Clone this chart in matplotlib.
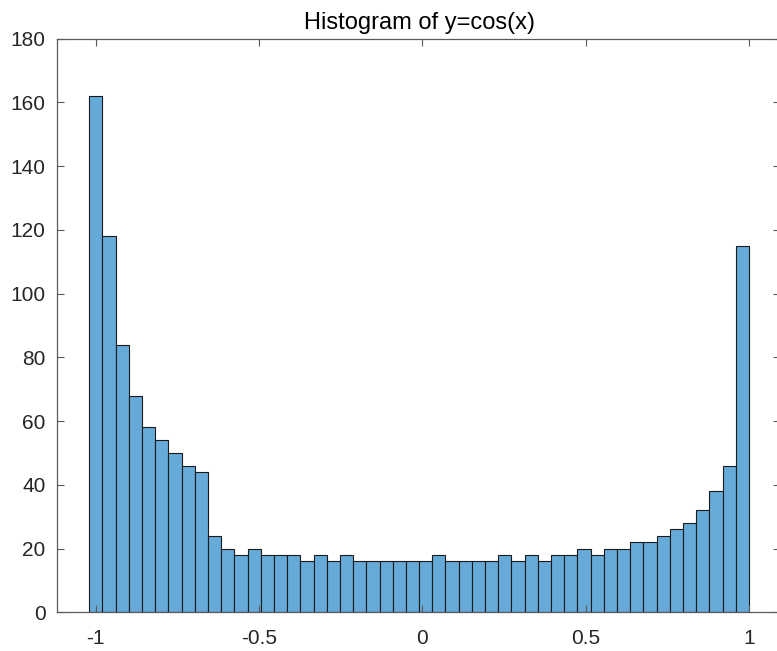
import numpy as np
import matplotlib
matplotlib.use("Agg")
import matplotlib.pyplot as plt

# Histogram of y = cos(x): 50 bins from -1.02 to 1.0
bin_start = -1.02
bin_end = 1.0
counts = [162, 118, 84, 68, 58, 54, 50, 46, 44, 24,
          20, 18, 20, 18, 18, 18, 16, 18, 16, 18,
          16, 16, 16, 16, 16, 16, 18, 16, 16, 16,
          16, 18, 16, 18, 16, 18, 18, 20, 18, 20,
          20, 22, 22, 24, 26, 28, 32, 38, 46, 115]
xticks = [-1, -0.5, 0, 0.5, 1]
xtick_labels = ["-1", "-0.5", "0", "0.5", "1"]
yticks = [0, 20, 40, 60, 80, 100, 120, 140, 160, 180]
title = "Histogram of y=cos(x)"

plt.rcParams['font.family'] = ['Liberation Sans', 'DejaVu Sans']
plt.rcParams['axes.unicode_minus'] = False

W, H = 777, 651
fig = plt.figure(figsize=(W / 100, H / 100), dpi=100)
left_px, right_px, top_px, bottom_px = 56.7, 783, 38.5, 612.3
ax = fig.add_axes([left_px / W, (H - bottom_px) / H,
                   (right_px - left_px) / W, (bottom_px - top_px) / H])

edges = np.linspace(bin_start, bin_end, len(counts) + 1)
ax.bar(edges[:-1], counts, width=np.diff(edges), align='edge',
       color='#65aad8', edgecolor='#1a1a1a', linewidth=0.8)

ax.set_xlim(-1.1194, 1.104)
ax.set_ylim(0, 180)
ax.set_xticks(xticks)
ax.set_xticklabels(xtick_labels)
ax.set_yticks(yticks)

for s in ax.spines.values():
    s.set_color('#5a5a5a')
    s.set_linewidth(0.9)

ax.tick_params(axis='both', direction='in', length=5, width=0.8,
               color='#5a5a5a', labelcolor='#262626', labelsize=15,
               top=True, right=True)
ax.tick_params(axis='y', which='major', right=True)
ax.tick_params(axis='x', pad=12)
ax.tick_params(axis='y', pad=8)
for t in ax.yaxis.get_major_ticks():
    t.tick2line.set_markersize(7)

ax.set_title(title, fontsize=17, color='#000000', pad=7)

fig.savefig("out.png", dpi=100)
